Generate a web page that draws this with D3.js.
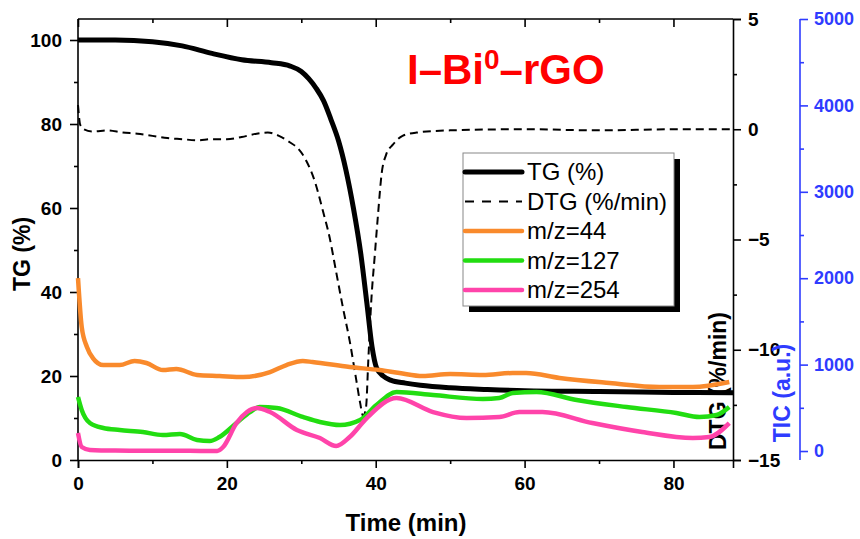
<!DOCTYPE html>
<html>
<head>
<meta charset="utf-8">
<script src="https://cdn.jsdelivr.net/npm/d3@7"></script>
<style>
  body { margin: 0; background: #fff; }
  svg { display: block; font-family: "Liberation Sans", Arial, sans-serif; }
</style>
</head>
<body>
<div id="chart"></div>
<script>
// TG curve (time in min, mass %)
const tgTime = [0, 5, 10, 14, 18, 22, 26, 28.5, 30, 31, 32, 33, 34, 35, 36, 37, 38, 38.8, 39.5, 40.1, 41, 42, 44, 46, 50, 55, 60, 70, 80, 88];
const tgVal  = [100, 100, 99.6, 98.6, 96.8, 95.3, 94.6, 93.8, 92.5, 90.8, 88.5, 85.5, 81, 76, 69, 60, 49, 37.5, 27, 22, 20, 19, 18.3, 17.8, 17.2, 16.8, 16.5, 16.3, 16.1, 16];

// DTG curve (%/min)
const dtgTime = [0, 0.3, 0.8, 2, 4, 6, 8, 10, 12, 14, 16, 18, 20, 22, 24, 25.5, 27, 28.5, 29.5, 30.7, 31.8, 32.9, 33.8, 34.7, 35.6, 36.5, 37.4, 37.9, 38.3, 38.7, 39.0, 39.4, 39.9, 40.3, 40.8, 41.4, 42.3, 43.6, 45.5, 50, 60, 70, 80, 88];
const dtgVal  = [1.1, 0.2, 0.0, -0.1, -0.05, -0.15, -0.2, -0.3, -0.4, -0.45, -0.5, -0.45, -0.45, -0.35, -0.2, -0.15, -0.3, -0.6, -0.85, -1.45, -2.35, -3.7, -4.9, -6.5, -8.1, -9.6, -11.4, -12.4, -13.0, -12.6, -10.5, -7.8, -5.6, -3.9, -2.0, -1.15, -0.7, -0.3, -0.15, -0.05, 0, -0.05, 0, 0];

// MS ion currents (TIC, a.u.)
const mz44Time = [0, 0.5, 1.2, 2, 3.4, 5.6, 7.6, 9.2, 11.4, 13.2, 16, 19, 22.2, 25.8, 28, 30.2, 31.5, 36.5, 40.5, 43.2, 46.3, 50, 54.4, 58.4, 60.2, 64.7, 71.4, 78.1, 82.6, 87.5];
const mz44Val  = [2002, 1435, 1204, 1076, 995, 995, 1042, 1019, 937, 949, 880, 868, 856, 914, 995, 1042, 1030, 972, 937, 903, 868, 891, 880, 903, 903, 845, 787, 741, 741, 799];

const mz127Time = [0, 0.5, 1.6, 3.4, 5.6, 8.7, 11.4, 13.7, 16, 17.7, 19, 21.3, 23.1, 24.4, 26.7, 30.2, 32.5, 35.2, 37.9, 40.1, 42.8, 47.7, 54.4, 56.6, 58.4, 61.6, 67, 73.7, 80.4, 83.5, 85.8, 87.5];
const mz127Val  = [625, 475, 324, 266, 243, 220, 185, 197, 127, 116, 162, 324, 451, 509, 498, 394, 336, 301, 359, 532, 683, 648, 602, 613, 671, 683, 590, 509, 440, 394, 417, 509];

const mz254Time = [0, 0.5, 1.6, 5, 10, 15, 18.7, 19.5, 21.3, 22.7, 24, 25.8, 29.4, 32.5, 34.7, 36.5, 38.8, 42.8, 47.7, 52.2, 56.6, 59.3, 62.4, 69.1, 75.8, 82.6, 84.8, 87.5];
const mz254Val  = [208, 46, 12, 5, 3, 2, 0, 46, 324, 451, 498, 451, 243, 150, 58, 162, 382, 613, 451, 382, 394, 451, 451, 324, 220, 150, 162, 324];

const seriesNames = ["TG (%)", "DTG (%/min)", "m/z=44", "m/z=127", "m/z=254"];
const xTicks = [0, 20, 40, 60, 80];
const tgTicks = [0, 20, 40, 60, 80, 100];
const dtgTicks = [5, 0, -5, -10, -15];
const ticTicks = [0, 1000, 2000, 3000, 4000, 5000];

const W = 860, H = 539;
const L = 78, R = 733, T = 19, B = 460;
const orange = "#f98a2c", green = "#22dd11", pink = "#ff44aa", blue = "#2f3cff";

const svg = d3.select("#chart").append("svg")
    .attr("width", W).attr("height", H);

const x = d3.scaleLinear().domain([0, 88]).range([L, R]);
const yTG = d3.scaleLinear().domain([0, 105]).range([B, T]);
const yDTG = d3.scaleLinear().domain([-15, 5]).range([B, T]);
const yTIC = d3.scaleLinear().domain([-104, 5000]).range([B, T]);

function styleAxis(g, color, size) {
    g.selectAll("path").attr("stroke", color).attr("stroke-width", 1.6);
    g.selectAll("line").attr("stroke", color).attr("stroke-width", 1.6);
    g.selectAll("text").attr("fill", color)
        .style("font-size", size + "px").style("font-weight", "bold")
        .style("font-family", "'Liberation Sans', Arial, sans-serif");
}

// bottom axis
const gx = svg.append("g").attr("transform", `translate(0,${B})`)
    .call(d3.axisBottom(x).tickValues(xTicks).tickSize(8).tickPadding(9).tickFormat(d3.format("d")));
styleAxis(gx, "#000", 19);
const gxm = svg.append("g").attr("transform", `translate(0,${B})`)
    .call(d3.axisBottom(x).tickValues([10, 30, 50, 70]).tickSize(4).tickFormat(""));
styleAxis(gxm, "#000", 19);
gxm.select("path").remove();

// top axis (ticks inward)
const gt = svg.append("g").attr("transform", `translate(0,${T})`)
    .call(d3.axisBottom(x).tickValues(xTicks).tickSize(8).tickFormat(""));
styleAxis(gt, "#000", 19);
const gtm = svg.append("g").attr("transform", `translate(0,${T})`)
    .call(d3.axisBottom(x).tickValues([10, 30, 50, 70]).tickSize(4).tickFormat(""));
styleAxis(gtm, "#000", 19);
gt.select("path").attr("d", `M${L},0H${R}`);
gtm.select("path").remove();

// left TG axis
const gl = svg.append("g").attr("transform", `translate(${L},0)`)
    .call(d3.axisLeft(yTG).tickValues(tgTicks).tickSize(8).tickPadding(8));
styleAxis(gl, "#000", 19);
gl.select("path").attr("d", `M0,${B}V${T}`);
const glm = svg.append("g").attr("transform", `translate(${L},0)`)
    .call(d3.axisLeft(yTG).tickValues([10, 30, 50, 70, 90]).tickSize(4).tickFormat(""));
styleAxis(glm, "#000", 19);
glm.select("path").remove();

// right DTG axis
const gr = svg.append("g").attr("transform", `translate(${R},0)`)
    .call(d3.axisRight(yDTG).tickValues(dtgTicks).tickSize(8).tickPadding(7));
styleAxis(gr, "#000", 19);
const grm = svg.append("g").attr("transform", `translate(${R},0)`)
    .call(d3.axisRight(yDTG).tickValues([2.5, -2.5, -7.5, -12.5]).tickSize(4).tickFormat(""));
styleAxis(grm, "#000", 19);
grm.select("path").remove();

// far right TIC axis
const TICX = 800;
const gb = svg.append("g").attr("transform", `translate(${TICX},0)`)
    .call(d3.axisRight(yTIC).tickValues(ticTicks).tickSize(8).tickPadding(6).tickFormat(d3.format("d")));
styleAxis(gb, blue, 18);
gb.select("path").attr("d", `M0,${B}V${T}`);
const gbm = svg.append("g").attr("transform", `translate(${TICX},0)`)
    .call(d3.axisRight(yTIC).tickValues([500, 1500, 2500, 3500, 4500]).tickSize(4).tickFormat(""));
styleAxis(gbm, blue, 18);
gbm.select("path").remove();

// axis titles
svg.append("text").attr("x", 406).attr("y", 531).attr("text-anchor", "middle")
    .style("font-size", "24px").style("font-weight", "bold").text("Time (min)");
svg.append("text").attr("transform", "translate(30,254) rotate(-90)").attr("text-anchor", "middle")
    .style("font-size", "23px").style("font-weight", "bold").text("TG (%)");
svg.append("text").attr("transform", "translate(726,381) rotate(-90)").attr("text-anchor", "middle")
    .style("font-size", "23px").style("font-weight", "bold").text("DTG (%/min)");
svg.append("text").attr("transform", "translate(790,393) rotate(-90)").attr("text-anchor", "middle")
    .attr("fill", blue)
    .style("font-size", "23px").style("font-weight", "bold").text("TIC (a.u.)");

// title
const title = svg.append("text").attr("x", 407).attr("y", 84)
    .attr("fill", "#ff0000").style("font-size", "42px").style("font-weight", "bold");
title.append("tspan").text("I\u2013Bi");
title.append("tspan").attr("dy", -15).style("font-size", "28px").text("0");
title.append("tspan").attr("dy", 15).text("\u2013rGO");

// curves
const lineOf = (xs, ys, yScale) => d3.line()
    .x((d, i) => x(xs[i])).y((d, i) => yScale(ys[i]))
    .curve(d3.curveMonotoneX)(xs);

svg.append("path").attr("d", lineOf(tgTime, tgVal, yTG))
    .attr("fill", "none").attr("stroke", "#000").attr("stroke-width", 5);
svg.append("path").attr("d", lineOf(dtgTime, dtgVal, yDTG))
    .attr("fill", "none").attr("stroke", "#000").attr("stroke-width", 2)
    .attr("stroke-dasharray", "8,5");
svg.append("path").attr("d", lineOf(mz44Time, mz44Val, yTIC))
    .attr("fill", "none").attr("stroke", orange).attr("stroke-width", 4.5);
svg.append("path").attr("d", lineOf(mz127Time, mz127Val, yTIC))
    .attr("fill", "none").attr("stroke", green).attr("stroke-width", 4.5);
svg.append("path").attr("d", lineOf(mz254Time, mz254Val, yTIC))
    .attr("fill", "none").attr("stroke", pink).attr("stroke-width", 4.5);

// legend
const lg = svg.append("g");
lg.append("rect").attr("x", 469).attr("y", 159).attr("width", 211).attr("height", 153).attr("fill", "#000");
lg.append("rect").attr("x", 463).attr("y", 153).attr("width", 211).attr("height", 153)
    .attr("fill", "#fff").attr("stroke", "#888").attr("stroke-width", 1);
const lgStyles = [
    { c: "#000", w: 5, dash: null },
    { c: "#000", w: 2, dash: "9,8" },
    { c: orange, w: 4.5, dash: null },
    { c: green, w: 4.5, dash: null },
    { c: pink, w: 4.5, dash: null }
];
seriesNames.forEach((name, i) => {
    const yy = 172 + i * 29.5;
    lg.append("line").attr("x1", 465).attr("x2", 522).attr("y1", yy).attr("y2", yy)
        .attr("stroke", lgStyles[i].c).attr("stroke-width", lgStyles[i].w)
        .attr("stroke-linecap", lgStyles[i].dash ? "butt" : "round")
        .attr("stroke-dasharray", lgStyles[i].dash);
    lg.append("text").attr("x", 527).attr("y", yy + 8)
        .style("font-size", "24px").text(name);
});
</script>
</body>
</html>
